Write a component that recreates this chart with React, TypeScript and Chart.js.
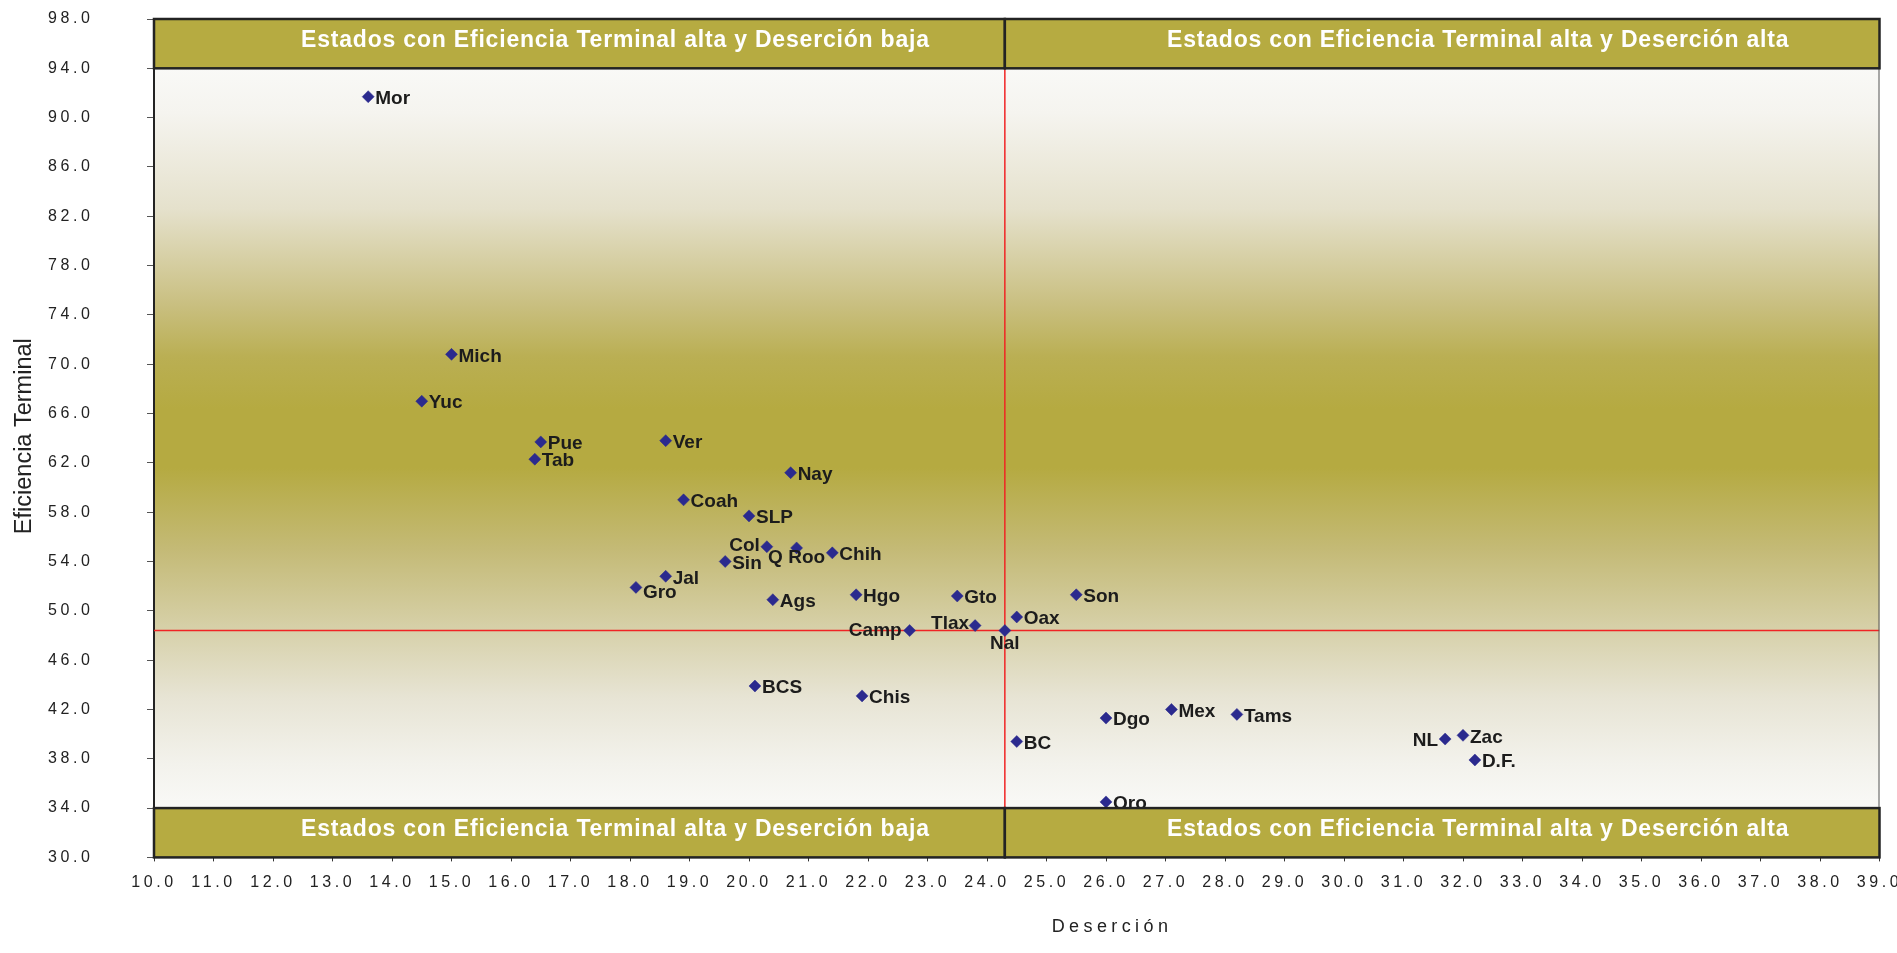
import React, { useEffect, useRef } from 'react';
import { Chart, registerables } from 'chart.js';

Chart.register(...registerables);

// ---------- DATA ----------
const STATES = [
  'Mor', 'Mich', 'Yuc', 'Pue', 'Tab', 'Ver', 'Nay', 'Coah', 'SLP', 'Col', 'Q Roo',
  'Chih', 'Sin', 'Jal', 'Gro', 'Ags', 'Hgo', 'Gto', 'Son', 'Oax', 'Camp', 'Tlax',
  'Nal', 'BCS', 'Chis', 'Dgo', 'Mex', 'Tams', 'BC', 'Qro', 'NL', 'Zac', 'D.F.',
];
const DESERCION = [
  13.6, 15.0, 14.5, 16.5, 16.4, 18.6, 20.7, 18.9, 20.0, 20.3, 20.8,
  21.4, 19.6, 18.6, 18.1, 20.4, 21.8, 23.5, 25.5, 24.5, 22.7, 23.8,
  24.3, 20.1, 21.9, 26.0, 27.1, 28.2, 24.5, 26.0, 31.7, 32.0, 32.2,
];
const EFICIENCIA = [
  91.7, 70.8, 67.0, 63.7, 62.3, 63.8, 61.2, 59.0, 57.7, 55.2, 55.1,
  54.7, 54.0, 52.8, 51.9, 50.9, 51.3, 51.2, 51.3, 49.5, 48.4, 48.8,
  48.4, 43.9, 43.1, 41.3, 42.0, 41.6, 39.4, 34.5, 39.6, 39.9, 37.9,
];

const NATIONAL_X = 24.3;
const NATIONAL_Y = 48.4;

const X_MIN = 10;
const X_MAX = 39;
const X_STEP = 1;
const Y_MIN = 30;
const Y_MAX = 98;
const Y_STEP = 4;

const TOP_BAND = [94, 98];
const BOTTOM_BAND = [30, 34];
const TOP_LEFT_TEXT = 'Estados con Eficiencia Terminal alta y Deserción baja';
const TOP_RIGHT_TEXT = 'Estados con Eficiencia Terminal alta y Deserción alta';
const BOTTOM_LEFT_TEXT = 'Estados con Eficiencia Terminal alta y Deserción baja';
const BOTTOM_RIGHT_TEXT = 'Estados con Eficiencia Terminal alta y Deserción alta';

const X_TITLE = 'Deserción';
const Y_TITLE = 'Eficiencia Terminal';

// ---------- STYLE ----------
const FONT = '"Liberation Sans", Arial, Helvetica, sans-serif';
const OLIVE = '#B6AB41';
const MARKER = '#2B2A8E';
const DARK = '#232323';

type Place = { align: CanvasTextAlign; dx: number; dy: number };
const DEFAULT_PLACE: Place = { align: 'left', dx: 7, dy: 2 };
const LABEL_PLACE: Record<string, Place> = {
  Col: { align: 'right', dx: -7, dy: -1 },
  Camp: { align: 'right', dx: -8, dy: 0 },
  Tlax: { align: 'right', dx: -6, dy: -2 },
  NL: { align: 'right', dx: -7, dy: 2 },
  Nal: { align: 'center', dx: 0, dy: 13 },
  'Q Roo': { align: 'center', dx: 0, dy: 10 },
  Gro: { align: 'left', dx: 7, dy: 5 },
};

const GRADIENT_STOPS: [number, string][] = [
  [0, '#F9F9F7'],
  [0.06, '#F5F4EF'],
  [0.19, '#E5E1CC'],
  [0.32, '#C9BF80'],
  [0.39, '#BAAF53'],
  [0.46, '#B5AA41'],
  [0.54, '#B5AA41'],
  [0.65, '#C4BA76'],
  [0.76, '#D7D1AA'],
  [0.85, '#E7E4D4'],
  [0.94, '#F3F2EC'],
  [1, '#F9F9F7'],
];

const quadrantPlugin = {
  id: 'quadrantPlugin',
  beforeDraw(chart: any) {
    const { ctx, chartArea: a, scales } = chart;
    const y = scales.y;
    const g0 = y.getPixelForValue(TOP_BAND[0]);
    const g1 = y.getPixelForValue(BOTTOM_BAND[1]);
    const grad = ctx.createLinearGradient(0, g0, 0, g1);
    GRADIENT_STOPS.forEach(([p, c]) => grad.addColorStop(p, c));
    ctx.save();
    ctx.fillStyle = grad;
    ctx.fillRect(a.left, a.top, a.right - a.left, a.bottom - a.top);
    ctx.restore();
    ctx.letterSpacing = '3.6px';
  },
  beforeDatasetsDraw(chart: any) {
    chart.ctx.letterSpacing = '0px';
  },
  afterDatasetsDraw(chart: any) {
    const { ctx, chartArea: a, scales } = chart;
    const xs = scales.x;
    const ys = scales.y;
    ctx.save();
    ctx.letterSpacing = '0px';

    // point labels
    const meta = chart.getDatasetMeta(0);
    ctx.font = `bold 19px ${FONT}`;
    ctx.fillStyle = '#1C1C1C';
    ctx.textBaseline = 'middle';
    meta.data.forEach((el: any, i: number) => {
      const name = STATES[i];
      const p = LABEL_PLACE[name] || DEFAULT_PLACE;
      ctx.textAlign = p.align;
      ctx.fillText(name, el.x + p.dx, el.y + p.dy);
    });

    // right border of plot
    ctx.strokeStyle = '#555';
    ctx.lineWidth = 1;
    ctx.beginPath();
    ctx.moveTo(a.right - 0.5, a.top);
    ctx.lineTo(a.right - 0.5, a.bottom);
    ctx.stroke();

    // bands
    const xm = xs.getPixelForValue(NATIONAL_X);
    const bands: [number[], string, string][] = [
      [TOP_BAND, TOP_LEFT_TEXT, TOP_RIGHT_TEXT],
      [BOTTOM_BAND, BOTTOM_LEFT_TEXT, BOTTOM_RIGHT_TEXT],
    ];
    bands.forEach(([range, lt, rt]) => {
      const yt = ys.getPixelForValue(range[1]);
      const yb = ys.getPixelForValue(range[0]);
      const boxes: [number, number, string][] = [
        [a.left, xm, lt],
        [xm, a.right, rt],
      ];
      boxes.forEach(([x0, x1, t]) => {
        ctx.fillStyle = OLIVE;
        ctx.fillRect(x0, yt, x1 - x0, yb - yt);
        ctx.strokeStyle = DARK;
        ctx.lineWidth = 2.5;
        ctx.strokeRect(x0, yt, x1 - x0, yb - yt);
        ctx.fillStyle = '#FFFFFF';
        ctx.font = `bold 23px ${FONT}`;
        ctx.letterSpacing = '0.8px';
        ctx.textAlign = 'center';
        ctx.textBaseline = 'middle';
        ctx.fillText(t, (x0 + x1) / 2 + 36, (yt + yb) / 2 - 3);
        ctx.letterSpacing = '0px';
      });
    });

    // axis titles
    ctx.fillStyle = '#222';
    ctx.font = `23.5px ${FONT}`;
    ctx.textAlign = 'center';
    ctx.textBaseline = 'middle';
    ctx.save();
    ctx.translate(25, (a.top + a.bottom) / 2 - 2);
    ctx.rotate(-Math.PI / 2);
    ctx.fillText(Y_TITLE, 0, 0);
    ctx.restore();

    ctx.font = `18px ${FONT}`;
    ctx.letterSpacing = '4.4px';
    ctx.textAlign = 'center';
    ctx.textBaseline = 'alphabetic';
    ctx.fillText(X_TITLE, 1112, 932);
    ctx.letterSpacing = '0px';
    ctx.restore();
  },
};

export default function App() {
  const ref = useRef<HTMLCanvasElement>(null);

  useEffect(() => {
    if (!ref.current) return;
    const points = STATES.map((_, i) => ({ x: DESERCION[i], y: EFICIENCIA[i] }));
    const chart = new Chart(ref.current, {
      type: 'scatter',
      data: {
        datasets: [
          {
            type: 'scatter',
            label: 'Estados',
            data: points,
            pointStyle: 'rectRot',
            pointRadius: 6,
            backgroundColor: MARKER,
            borderColor: MARKER,
            borderWidth: 0.5,
          } as any,
          {
            type: 'line',
            label: 'Deserción nacional',
            data: [
              { x: X_MIN, y: NATIONAL_Y },
              { x: X_MAX, y: NATIONAL_Y },
            ],
            borderColor: '#F02424',
            borderWidth: 1.5,
            pointRadius: 0,
            fill: false,
          } as any,
          {
            type: 'line',
            label: 'Eficiencia nacional',
            data: [
              { x: NATIONAL_X, y: Y_MIN },
              { x: NATIONAL_X, y: Y_MAX },
            ],
            borderColor: '#F02424',
            borderWidth: 1.5,
            pointRadius: 0,
            fill: false,
          } as any,
        ],
      },
      options: {
        animation: false,
        responsive: false,
        events: [],
        layout: { padding: { left: 0, right: 17.5, top: 19, bottom: 0 } },
        plugins: {
          legend: { display: false },
          tooltip: { enabled: false },
        },
        scales: {
          x: {
            type: 'linear',
            min: X_MIN,
            max: X_MAX,
            ticks: {
              stepSize: X_STEP,
              autoSkip: false,
              maxRotation: 0,
              padding: 12,
              color: '#222',
              font: { family: FONT, size: 16 },
              callback: (v: any) => Number(v).toFixed(1),
            },
            grid: { drawOnChartArea: false, tickLength: 4, tickColor: '#333', tickWidth: 1 },
            border: { color: DARK, width: 2 },
            afterFit: (s: any) => {
              s.height = 95.6;
              s.paddingLeft = 0;
              s.paddingRight = 0;
            },
          },
          y: {
            type: 'linear',
            min: Y_MIN,
            max: Y_MAX,
            ticks: {
              stepSize: Y_STEP,
              autoSkip: false,
              padding: 53.5,
              color: '#222',
              font: { family: FONT, size: 16 },
              callback: (v: any) => Number(v).toFixed(1),
            },
            grid: { drawOnChartArea: false, tickLength: 7, tickColor: '#555', tickWidth: 1 },
            border: { color: DARK, width: 2 },
            afterFit: (s: any) => {
              s.width = 154;
              s.paddingTop = 0;
              s.paddingBottom = 0;
            },
          },
        },
      } as any,
      plugins: [quadrantPlugin],
    });
    return () => chart.destroy();
  }, []);

  return (
    <div style={{ position: 'fixed', left: 0, top: 0, width: 1897, height: 953, background: '#fff' }}>
      <canvas ref={ref} width={1897} height={953} style={{ display: 'block' }} />
    </div>
  );
}
